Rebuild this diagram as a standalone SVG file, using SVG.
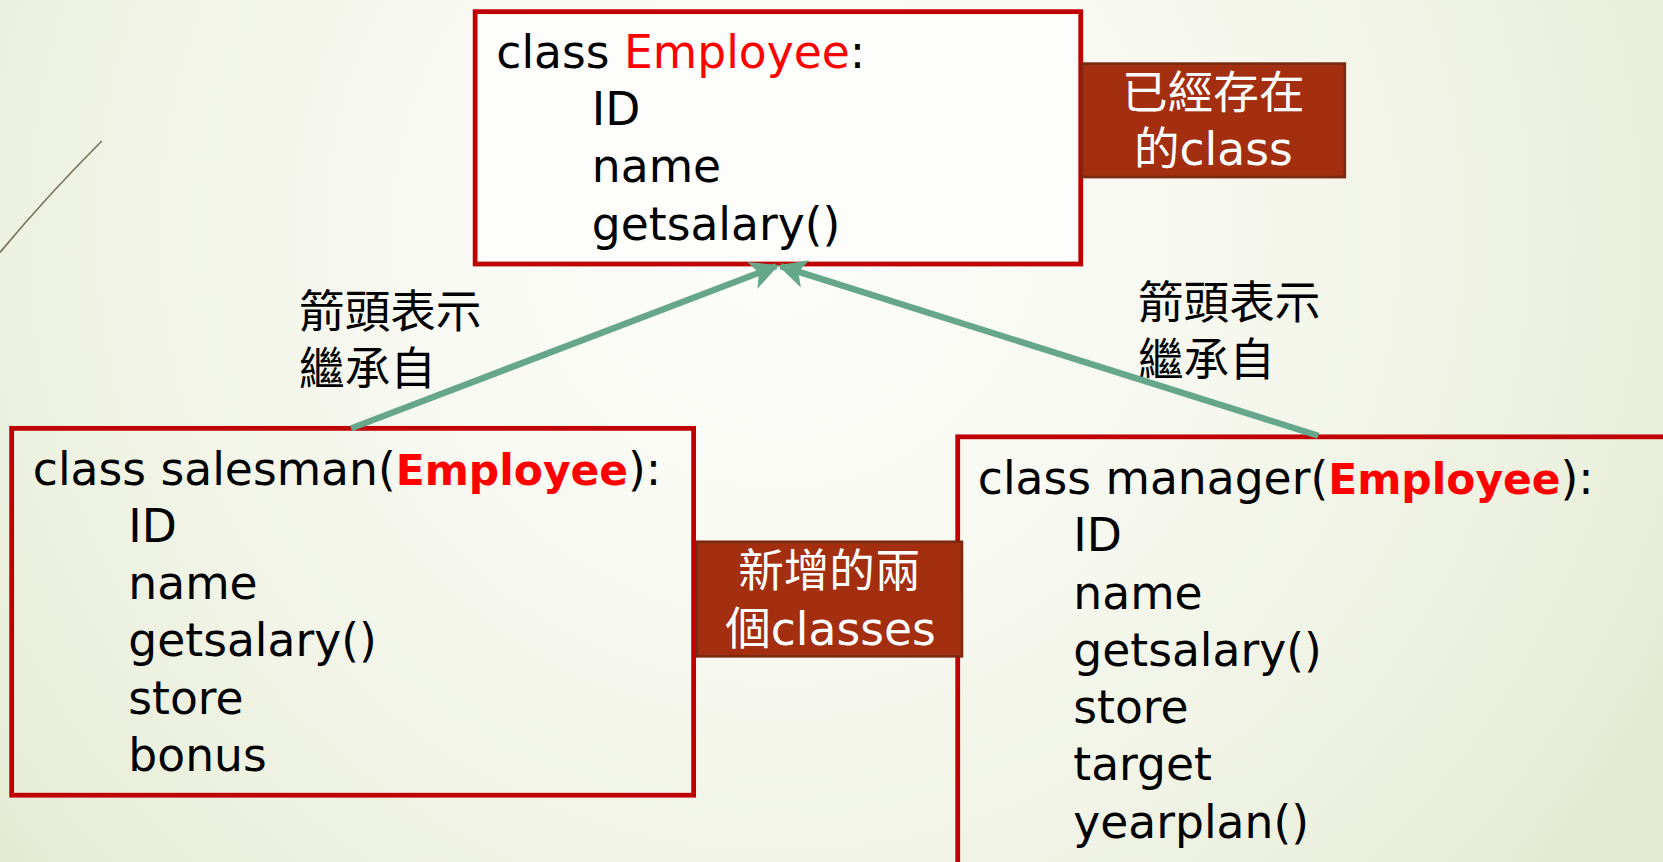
<svg xmlns="http://www.w3.org/2000/svg" width="1663" height="862" viewBox="0 0 1663 862">
<defs>
<radialGradient id="bg" cx="780" cy="230" r="1050" gradientUnits="userSpaceOnUse">
<stop offset="0" stop-color="#FDFDFB"/>
<stop offset="0.35" stop-color="#F8F9F2"/>
<stop offset="0.75" stop-color="#EDF1E0"/>
<stop offset="1" stop-color="#E3EACF"/>
</radialGradient>
<marker id="arr" viewBox="0 0 10 10" refX="9" refY="5" markerWidth="4.5" markerHeight="4.5" orient="auto" markerUnits="strokeWidth">
<path d="M0,0 L10,5 L0,10 L2.5,5 Z" fill="#66A68A"/>
</marker>
<style>
.box{fill:none;stroke:#C00000;stroke-width:4.5}
.code{font-family:"DejaVu Sans",sans-serif;font-size:43px;fill:#000}
.em{fill:#FF0000}
.emb{fill:#FF0000;font-weight:bold;font-size:40px}
.tag{fill:#A32F10;stroke:#7B2A12;stroke-width:2.5}
.tagt{font-family:"DejaVu Sans","Noto Sans CJK TC",sans-serif;font-size:43px;fill:#FFFFFF;text-anchor:middle}
.note{font-family:"DejaVu Sans","Noto Sans CJK TC",sans-serif;font-size:43px;fill:#000}
.conn{stroke:#66A68A;stroke-width:6;fill:none;marker-end:url(#arr)}
</style>
</defs>
<rect x="0" y="0" width="1663" height="862" fill="url(#bg)"/>
<g transform="scale(1.06059 1.06027)">
<path d="M0,238 Q45,184 96,133" fill="none" stroke="#7A745E" stroke-width="1.6"/>

<g id="employee">
<rect class="box" x="448" y="11" width="571" height="238" style="fill:#FDFDFB"/>
<text class="code" x="468" y="64">class <tspan class="em">Employee</tspan>:</text>
<text class="code" x="558" y="118">ID</text>
<text class="code" x="558" y="172">name</text>
<text class="code" x="558" y="226">getsalary()</text>
</g>

<g id="salesman">
<rect class="box" x="11" y="404" width="643" height="346"/>
<text class="code" x="31" y="457">class salesman(<tspan class="emb">Employee</tspan>):</text>
<text class="code" x="121" y="511">ID</text>
<text class="code" x="121" y="565">name</text>
<text class="code" x="121" y="619">getsalary()</text>
<text class="code" x="121" y="673">store</text>
<text class="code" x="121" y="727">bonus</text>
</g>

<g id="manager">
<rect class="box" x="903" y="412" width="700" height="440"/>
<text class="code" x="922" y="466">class manager(<tspan class="emb">Employee</tspan>):</text>
<text class="code" x="1012" y="520">ID</text>
<text class="code" x="1012" y="574">name</text>
<text class="code" x="1012" y="628">getsalary()</text>
<text class="code" x="1012" y="682">store</text>
<text class="code" x="1012" y="736">target</text>
<text class="code" x="1012" y="790">yearplan()</text>
</g>

<g id="existing-tag">
<rect class="tag" x="1020" y="60" width="248" height="107"/>
<text class="tagt" x="1144" y="103">已經存在<tspan x="1144" dy="53">的class</tspan></text>
</g>

<g id="new-tag">
<rect class="tag" x="657" y="511" width="250" height="108"/>
<text class="tagt" x="782" y="554">新增的兩<tspan x="783" dy="54">個classes</tspan></text>
</g>

<g id="note-left">
<text class="note" x="282" y="309">箭頭表示<tspan x="282" dy="54">繼承自</tspan></text>
</g>

<g id="note-right">
<text class="note" x="1073" y="301">箭頭表示<tspan x="1073" dy="54">繼承自</tspan></text>
</g>

<g id="connectors">
<line class="conn" x1="331" y1="404" x2="732" y2="251"/>
<line class="conn" x1="1243" y1="411" x2="736" y2="251"/>
</g>
</g>
</svg>
